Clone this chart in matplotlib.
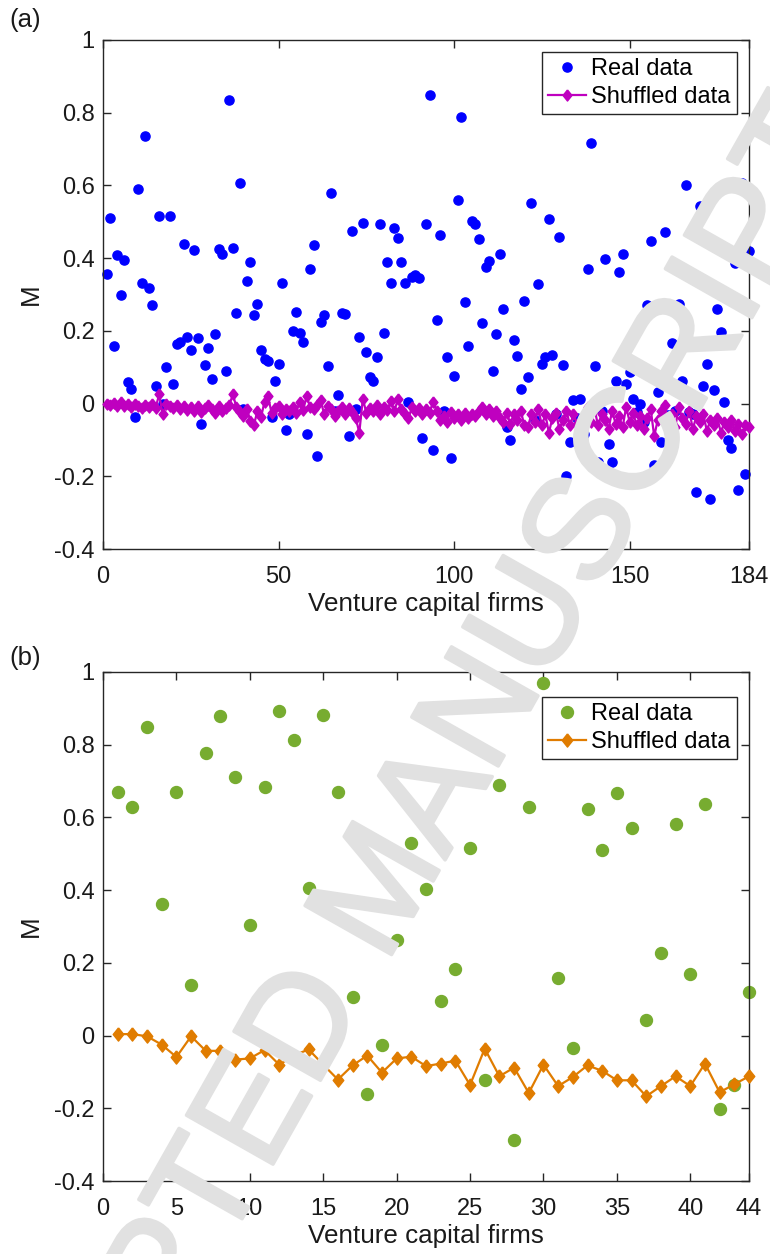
import numpy as np
import matplotlib
matplotlib.use("Agg")
import matplotlib.pyplot as plt
import matplotlib.patheffects as pe

plt.rcParams['font.family'] = ['Liberation Sans', 'DejaVu Sans']

# ---------------- data ----------------
real_a = [
    0.356, 0.51, 0.158, 0.41, 0.30, 0.396, 0.059, 0.04, -0.038, 0.59,
    0.333, 0.737, 0.319, 0.272, 0.048, 0.517, 0.0, 0.10, 0.517, 0.055,
    0.165, 0.17, 0.44, 0.183, 0.146, 0.423, 0.179, -0.055, 0.105, 0.153,
    0.068, 0.19, 0.424, 0.411, 0.089, 0.835, 0.427, 0.25, 0.608, -0.014,
    0.337, 0.39, 0.243, 0.275, 0.146, 0.122, 0.118, -0.037, 0.062, 0.109,
    0.333, -0.073, -0.03, 0.199, 0.252, 0.195, 0.168, -0.083, 0.37, 0.437,
    -0.143, 0.225, 0.243, 0.102, 0.58, -0.02, 0.024, 0.25, 0.245, -0.088,
    0.476, -0.014, 0.182, 0.496, 0.141, 0.073, 0.062, 0.128, 0.493, 0.195,
    0.39, 0.333, 0.484, 0.456, 0.39, 0.333, 0.004, 0.349, 0.353, 0.346,
    -0.095, 0.493, 0.848, -0.129, 0.229, 0.464, -0.02, 0.128, -0.149, 0.075,
    0.56, 0.788, 0.279, 0.158, 0.502, 0.493, 0.453, 0.222, 0.376, 0.392,
    0.089, 0.19, 0.412, 0.259, -0.065, -0.1, 0.175, 0.132, 0.039, 0.282,
    0.072, 0.553, -0.046, 0.329, 0.11, 0.128, 0.508, 0.133, -0.03, 0.459,
    0.105, -0.2, -0.106, 0.009, -0.04, 0.013, -0.083, 0.37, 0.717, 0.102,
    -0.161, -0.02, 0.397, -0.11, -0.16, 0.062, 0.362, 0.412, 0.055, 0.087,
    0.013, -0.023, 0.0, -0.05, 0.27, 0.448, -0.168, 0.032, -0.106, 0.471,
    -0.032, 0.166, -0.02, 0.274, 0.062, 0.60, -0.023, -0.03, -0.242, 0.544,
    0.048, 0.109, -0.262, 0.036, 0.261, 0.197, 0.004, -0.099, -0.122, 0.386,
    -0.238, 0.607, -0.195, 0.42,
]
shuffled_a = [
    0.0, -0.005, 0.002, -0.006, 0.003, -0.008, -0.002, -0.01, 0.0, -0.006,
    -0.012, -0.004, -0.009, 0.0, -0.011, 0.025, -0.03, -0.002, -0.006, -0.012,
    -0.004, -0.015, -0.008, -0.018, -0.01, -0.02, -0.006, -0.022, -0.012, -0.005,
    -0.016, -0.025, -0.008, -0.02, -0.012, -0.003, 0.025, -0.01, -0.022, -0.035,
    -0.015, -0.048, -0.058, -0.02, -0.038, 0.005, 0.02, -0.025, -0.012, -0.008,
    -0.03, -0.015, -0.02, -0.01, -0.025, 0.005, -0.018, 0.02, -0.01, -0.015,
    -0.005, 0.01, -0.03, -0.008, -0.015, -0.035, -0.02, -0.01, -0.03, -0.012,
    -0.022, -0.04, -0.08, 0.013, -0.025, -0.012, -0.02, -0.005, -0.03, -0.01,
    -0.018, 0.008, -0.02, 0.012, -0.015, -0.028, -0.04, -0.01, -0.02, -0.012,
    -0.03, -0.015, -0.025, 0.005, -0.02, -0.045, -0.035, -0.05, -0.022, -0.04,
    -0.03, -0.045, -0.025, -0.04, -0.028, -0.035, -0.02, -0.01, -0.03, -0.015,
    -0.035, -0.02, -0.04, -0.05, -0.025, -0.055, -0.03, -0.045, -0.02, -0.06,
    -0.065, -0.03, -0.05, -0.015, -0.06, -0.03, -0.08, -0.04, -0.025, -0.07,
    -0.045, -0.02, -0.06, -0.03, -0.055, -0.075, -0.035, -0.01, -0.05, -0.015,
    -0.06, -0.03, -0.045, -0.07, -0.02, -0.055, -0.035, -0.065, -0.01, -0.05,
    -0.025, -0.06, -0.035, -0.07, -0.04, -0.015, -0.09, -0.045, -0.02, -0.005,
    -0.05, -0.03, -0.065, -0.01, -0.04, -0.055, -0.02, -0.07, -0.035, -0.05,
    -0.03, -0.075, -0.045, -0.06, -0.04, -0.08, -0.05, -0.065, -0.045, -0.075,
    -0.055, -0.085, -0.06, -0.065,
]
real_b = [
    0.669, 0.63, 0.85, 0.363, 0.669, 0.138, 0.776, 0.88, 0.71, 0.303,
    0.683, 0.893, 0.8125, 0.407, 0.883, 0.669, 0.105, -0.162, -0.026, 0.263,
    0.53, 0.402, 0.094, 0.184, 0.517, -0.121, 0.69, -0.288, 0.63, 0.969,
    0.158, -0.035, 0.623, 0.51, 0.666, 0.57, 0.044, 0.227, 0.583, 0.17,
    0.636, -0.203, -0.136, 0.12,
]
shuffled_b = [
    0.004, 0.004, -0.002, -0.025, -0.059, -0.002, -0.042, -0.042, -0.066, -0.063,
    -0.04, -0.08, -0.055, -0.038, -0.08, -0.121, -0.082, -0.055, -0.102, -0.063,
    -0.058, -0.084, -0.077, -0.069, -0.136, -0.036, -0.112, -0.088, -0.158, -0.08,
    -0.139, -0.114, -0.082, -0.097, -0.123, -0.123, -0.167, -0.139, -0.112, -0.139,
    -0.077, -0.156, -0.134, -0.112,
]

xticks_a = [0, 50, 100, 150, 184]
xticks_b = [0, 5, 10, 15, 20, 25, 30, 35, 40, 44]
yticks = [-0.4, -0.2, 0, 0.2, 0.4, 0.6, 0.8, 1]
ytick_labels = ['-0.4', '-0.2', '0', '0.2', '0.4', '0.6', '0.8', '1']

# ---------------- figure ----------------
W, H = 770, 1254
fig = plt.figure(figsize=(W / 100, H / 100), dpi=100)

AX_COL = (0.15, 0.15, 0.15)
TXT_COL = (0.1, 0.1, 0.1)
FS = 17
LFS = 18.7

diamond = [(0, 1), (0.8, 0), (0, -1), (-0.8, 0), (0, 1)]


def make_axes(top_px, bot_px):
    left_px, right_px = 103, 749
    return fig.add_axes([left_px / W, 1 - bot_px / H,
                         (right_px - left_px) / W, (bot_px - top_px) / H])


def style(ax, n, xticks, legend_y):
    ax.set_xlim(0, n)
    ax.set_ylim(-0.4, 1)
    ax.set_xticks(xticks)
    ax.set_xticklabels([str(t) for t in xticks])
    ax.set_yticks(yticks)
    ax.set_yticklabels(ytick_labels)
    ax.tick_params(direction='in', length=6, width=1, colors=AX_COL,
                   labelsize=FS, top=True, right=True,
                   labelcolor=TXT_COL)
    ax.tick_params(axis='x', pad=12)
    ax.tick_params(axis='y', pad=6)
    for s in ax.spines.values():
        s.set_color(AX_COL)
        s.set_linewidth(1.0)
    ax.set_xlabel('Venture capital firms', fontsize=LFS, color=TXT_COL,
                  labelpad=3)
    ax.set_ylabel('M', fontsize=LFS, color=TXT_COL, labelpad=8)
    leg = ax.legend(loc='upper right', bbox_to_anchor=(0.981, legend_y),
                    borderaxespad=0, fontsize=FS, frameon=True, fancybox=False,
                    framealpha=1, edgecolor=AX_COL, handlelength=1.6,
                    handletextpad=0.25, labelspacing=0.25, borderpad=0.25)
    leg.get_frame().set_linewidth(1.0)


# panel (a)
ax1 = make_axes(40, 549)
xa = np.arange(1, len(real_a) + 1)
ax1.plot(xa, real_a, linestyle='none', marker='o', markersize=6.6,
         color='#0000ff', label='Real data', clip_on=False, zorder=2)
ax1.plot(xa, shuffled_a, color='#bf00bf', linewidth=1.6, marker=diamond,
         markersize=8.0, label='Shuffled data', clip_on=False, zorder=3)
style(ax1, 184, xticks_a, (549 - 52) / (549 - 40))

# panel (b)
ax2 = make_axes(672, 1181)
xb = np.arange(1, len(real_b) + 1)
ax2.plot(xb, real_b, linestyle='none', marker='o', markersize=8.6,
         color='#77ac30', label='Real data', clip_on=False, zorder=2)
ax2.plot(xb, shuffled_b, color='#e07c00', linewidth=1.6, marker=diamond,
         markersize=9.5, label='Shuffled data', clip_on=False, zorder=3)
style(ax2, 44, xticks_b, (1181 - 697) / (1181 - 672))

fig.text(25 / W, 1 - 20 / H, '(a)', fontsize=18.5, ha='center', va='center',
         color=TXT_COL)
fig.text(25 / W, 1 - 658 / H, '(b)', fontsize=18.5, ha='center', va='center',
         color=TXT_COL)

# watermark
WM_COL = '#e1e1e1'
fig.text(385 / W, 1 - 890 / H, 'ACCEPTED MANUSCRIPT', fontsize=104,
         rotation=60.5, rotation_mode='anchor', ha='center', va='center',
         color=WM_COL, zorder=10,
         path_effects=[pe.withStroke(linewidth=2.5, foreground=WM_COL)])

fig.savefig('out.png', dpi=100)
